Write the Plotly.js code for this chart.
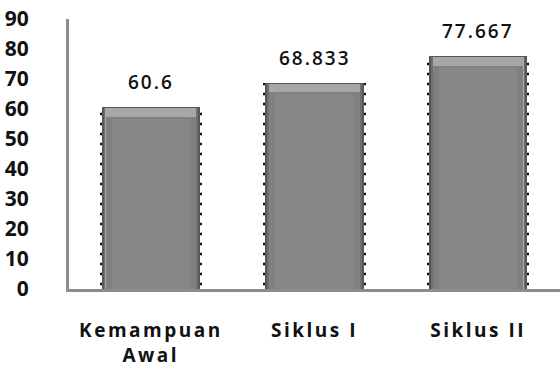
<!DOCTYPE html>
<html>
<head>
<meta charset="utf-8">
<script src="https://cdn.plot.ly/plotly-3.0.1.min.js"></script>
<style>
html,body{margin:0;padding:0;background:#fff;}
#chart{width:560px;height:376px;}
.xtick text{letter-spacing:2.5px;}
.annotation-text{letter-spacing:2px;}
</style>
</head>
<body>
<div id="chart"></div>
<script>
var categories = ["Kemampuan<br>Awal", "Siklus I", "Siklus II"];
var values = [60.6, 68.833, 77.667];
var valueLabels = ["60.6", "68.833", "77.667"];
var yTicks = [0, 10, 20, 30, 40, 50, 60, 70, 80, 90];

var BEVEL = 3.3;
var INSET = 0.4;

var traces = [
  {type:'bar', x:categories, y:values, width:0.625, hoverinfo:'skip',
   marker:{color:'rgba(0,0,0,0)', line:{width:0},
     pattern:{shape:'-', size:10, solidity:0.25, fgcolor:'#111', bgcolor:'rgba(0,0,0,0)', fgopacity:1}}},
  {type:'bar', x:categories, y:values, width:0.6, hoverinfo:'skip',
   marker:{color:'#575757', line:{width:0}}},
  {type:'bar', x:categories, y:values.map(function(v){return v-INSET;}), width:0.575, hoverinfo:'skip',
   marker:{color:'#6f6f6f', line:{width:0}}},
  {type:'bar', x:categories, y:values.map(function(v){return v-INSET;}), width:0.555, hoverinfo:'skip',
   marker:{color:'#a7a7a7', line:{width:0}}},
  {type:'bar', x:categories, y:values.map(function(v){return v-BEVEL;}), width:0.55, hoverinfo:'skip',
   marker:{color:'#808080', line:{width:0}}},
  {type:'bar', x:categories, y:values.map(function(v){return v-BEVEL-0.5;}), width:0.48, hoverinfo:'skip',
   marker:{color:'#878787', line:{width:0}}}
];

var annotations = categories.map(function(c, i){
  return {x:c, y:values[i], text:valueLabels[i], showarrow:false, yanchor:'bottom', yshift:10,
          font:{family:'Open Sans, sans-serif', size:19, color:'#111', weight:600}};
});

var layout = {
  width:560, height:376,
  margin:{l:69, r:0, t:19, b:87},
  paper_bgcolor:'#fff', plot_bgcolor:'#fff',
  showlegend:false,
  barmode:'overlay',
  bargap:0,
  xaxis:{type:'category', range:[-0.5, 2.5], showline:true, linecolor:'#8c8c8c', linewidth:3,
         ticks:'', showgrid:false, zeroline:false, ticklabelstandoff:22,
         tickfont:{family:'Open Sans, sans-serif', size:19, color:'#111', weight:'bold'}},
  yaxis:{range:[0, 90], tickvals:yTicks, ticktext:yTicks.map(String), showline:true, linecolor:'#8c8c8c', linewidth:3,
         ticks:'', showgrid:false, zeroline:false, ticklabelstandoff:33,
         tickfont:{family:'Open Sans, sans-serif', size:21, color:'#111', weight:'bold'}},
  annotations:annotations
};

Plotly.newPlot('chart', traces, layout, {staticPlot:true, displayModeBar:false});
</script>
</body>
</html>
